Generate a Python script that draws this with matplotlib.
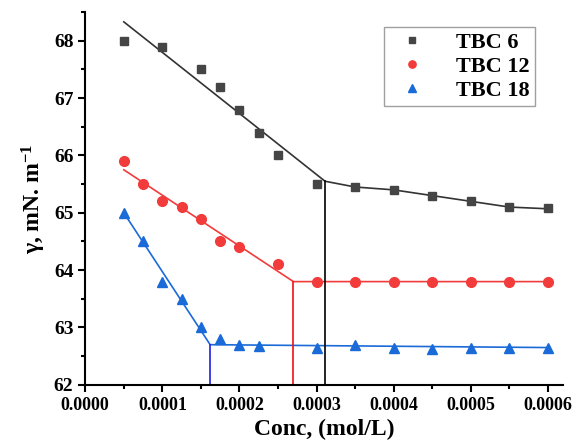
import matplotlib
matplotlib.use('Agg')
import matplotlib.pyplot as plt
from matplotlib.ticker import MultipleLocator, FormatStrFormatter

# Data
x6 = [0.00005, 0.0001, 0.00015, 0.000175, 0.0002, 0.000225, 0.00025,
      0.0003, 0.00035, 0.0004, 0.00045, 0.0005, 0.00055, 0.0006]
y6 = [68.0, 67.9, 67.5, 67.2, 66.8, 66.4, 66.0,
      65.5, 65.45, 65.4, 65.3, 65.2, 65.1, 65.08]

x12 = [0.00005, 0.000075, 0.0001, 0.000125, 0.00015, 0.000175, 0.0002, 0.00025,
       0.0003, 0.00035, 0.0004, 0.00045, 0.0005, 0.00055, 0.0006]
y12 = [65.9, 65.5, 65.2, 65.1, 64.9, 64.5, 64.4, 64.1,
       63.8, 63.8, 63.8, 63.8, 63.8, 63.8, 63.8]

x18 = [0.00005, 0.000075, 0.0001, 0.000125, 0.00015, 0.000175, 0.0002, 0.000225,
       0.0003, 0.00035, 0.0004, 0.00045, 0.0005, 0.00055, 0.0006]
y18 = [65.0, 64.5, 63.8, 63.5, 63.0, 62.8, 62.7, 62.68,
       62.65, 62.7, 62.65, 62.62, 62.65, 62.65, 62.65]

# fitted line segments (x, y) and CMC break points
fit6_x = [0.00005, 0.000311, 0.00035, 0.0004, 0.00045, 0.0005, 0.00055, 0.0006]
fit6_y = [68.33, 65.55, 65.45, 65.4, 65.3, 65.2, 65.1, 65.07]
fit12_x = [0.00005, 0.00027, 0.0006]
fit12_y = [65.75, 63.8, 63.8]
fit18_x = [0.00005, 0.000162, 0.0006]
fit18_y = [65.0, 62.7, 62.65]
cmc_x = [0.000311, 0.00027, 0.000162]
cmc_y = [65.55, 63.8, 62.7]

c6, c12, c18 = '#454545', '#f23b3b', '#1a6ad8'
vcolors = ['black', '#f01010', '#2020e0']

plt.rcParams['font.family'] = ['Liberation Serif', 'DejaVu Serif']
plt.rcParams['font.weight'] = 'bold'
plt.rcParams['mathtext.fontset'] = 'custom'
plt.rcParams['mathtext.rm'] = 'Liberation Serif:bold'
plt.rcParams['mathtext.it'] = 'Liberation Serif:bold'

fig = plt.figure(figsize=(5.76, 4.48), dpi=100)
ax = fig.add_axes([0.148, 0.141, 0.83, 0.832])

ax.plot(fit6_x, fit6_y, color='#333333', lw=1.2)
ax.plot(fit12_x, fit12_y, color=c12, lw=1.2)
ax.plot(fit18_x, fit18_y, color=c18, lw=1.2)
for cx, cy, vc in zip(cmc_x, cmc_y, vcolors):
    ax.plot([cx, cx], [62, cy], color=vc, lw=1.2)

ax.plot(x6, y6, 's', color=c6, ms=6, label='TBC 6')
ax.plot(x12, y12, 'o', color=c12, ms=7, label='TBC 12')
ax.plot(x18, y18, '^', color=c18, ms=7, label='TBC 18')

ax.set_xlim(0, 0.00062)
ax.set_ylim(62, 68.5)
ax.xaxis.set_major_locator(MultipleLocator(0.0001))
ax.xaxis.set_minor_locator(MultipleLocator(0.00005))
ax.xaxis.set_major_formatter(FormatStrFormatter('%.4f'))
ax.yaxis.set_major_locator(MultipleLocator(1))
ax.yaxis.set_minor_locator(MultipleLocator(0.5))

for s in ['top', 'right']:
    ax.spines[s].set_visible(False)
for s in ['left', 'bottom']:
    ax.spines[s].set_linewidth(1.5)
ax.tick_params(which='major', direction='out', length=5, width=1.5)
ax.tick_params(which='minor', direction='out', length=3, width=1.5)
ax.tick_params(axis='x', labelsize=13)
ax.tick_params(axis='y', labelsize=14)

ax.set_xlabel('Conc, (mol/L)', fontsize=17, fontweight='bold')
ax.set_ylabel('γ, mN. m$^{-1}$', fontsize=17, fontweight='bold')

leg = ax.legend(loc='upper right', bbox_to_anchor=(0.965, 0.99), fontsize=16,
                fancybox=False, edgecolor='#888888', handletextpad=1.0,
                borderpad=0.25, labelspacing=0.15, markerscale=0.75)
leg.get_frame().set_linewidth(1.0)

fig.savefig('out.png', dpi=100)
